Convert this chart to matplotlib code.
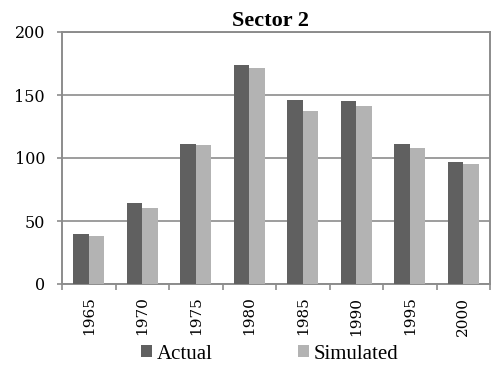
import numpy as np
import matplotlib.pyplot as plt

years = ['1965', '1970', '1975', '1980', '1985', '1990', '1995', '2000']
actual = [39.4, 64.3, 111.4, 173.8, 146.0, 145.5, 111.4, 96.8]
simulated = [38.3, 60.6, 110.0, 171.7, 137.3, 141.3, 107.9, 95.0]

plt.rcParams['font.family'] = ['Liberation Serif', 'DejaVu Serif']
tick_font = ['DejaVu Serif']

fig = plt.figure(figsize=(4.94, 3.70), dpi=100)
ax = fig.add_axes([62 / 494, 1 - 284 / 370, 428 / 494, 252 / 370])

x = np.arange(len(years))
w = 0.286
ax.bar(x - w / 2, actual, width=w, color='#606060', label='Actual', zorder=3)
ax.bar(x + w / 2, simulated, width=w, color='#b3b3b3', label='Simulated', zorder=3)

ax.set_xlim(-0.5, len(years) - 0.5)
ax.set_ylim(0, 200)
ax.set_yticks([0, 50, 100, 150, 200])
ax.set_yticklabels(['0', '50', '100', '150', '200'], family=tick_font, fontsize=11.5)
ax.yaxis.grid(True, color='#8c8c8c', linewidth=1.2, zorder=0)

# ticks on category boundaries, labels at centres
ax.set_xticks(np.arange(-0.5, len(years) + 0.5, 1))
ax.set_xticklabels([])
ax.set_xticks(x, minor=True)
ax.set_xticklabels(years, minor=True, rotation=90, family=tick_font, fontsize=11)
ax.tick_params(axis='x', which='minor', length=0, pad=9)
ax.tick_params(axis='x', which='major', length=4.3, color='#8c8c8c', width=1.2)
ax.tick_params(axis='y', length=3.6, color='#8c8c8c', width=1.2, pad=8.6)

for s in ax.spines.values():
    s.set_color('#8c8c8c')
    s.set_linewidth(1.4)

ax.set_title('Sector 2', fontsize=16, fontweight='bold', pad=4, x=0.486)

ax.legend(loc='center', bbox_to_anchor=(0.486, -0.278), ncol=2, frameon=False,
          fontsize=15, handlelength=0.5, handleheight=0.5, handletextpad=0.25,
          columnspacing=4.1)

plt.savefig('out.png', dpi=100)
